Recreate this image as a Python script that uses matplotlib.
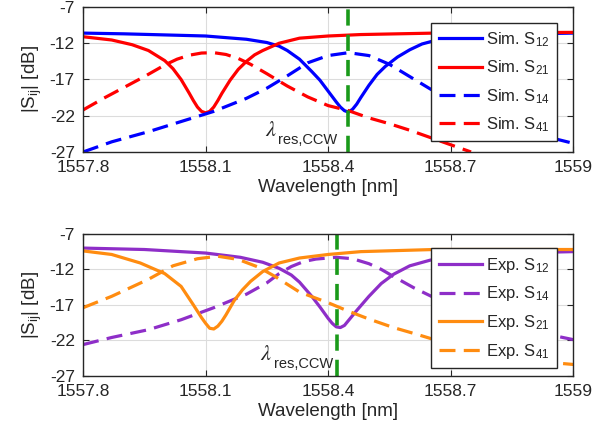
import matplotlib
matplotlib.use("Agg")
import matplotlib.pyplot as plt
import numpy as np

plt.rcParams['font.family'] = ['Liberation Sans', 'DejaVu Sans']
plt.rcParams['mathtext.fontset'] = 'custom'
plt.rcParams['mathtext.rm'] = 'Liberation Sans'
plt.rcParams['mathtext.it'] = 'Liberation Sans:italic'
plt.rcParams['axes.unicode_minus'] = False

# simulated spectra
wl_sim_s12 = [1557.80, 1557.90, 1558.00, 1558.10, 1558.20, 1558.25, 1558.28, 1558.30, 1558.33,
              1558.36, 1558.38, 1558.40, 1558.42, 1558.43, 1558.44, 1558.45, 1558.46, 1558.47,
              1558.48, 1558.50, 1558.52, 1558.54, 1558.57, 1558.60, 1558.63, 1558.67, 1558.72,
              1558.80, 1558.90, 1559.00]
sim_s12 = [-10.6, -10.7, -10.85, -11.0, -11.45, -11.9, -12.4, -13.0, -14.2,
           -15.9, -17.1, -18.6, -20.1, -20.8, -21.3, -21.5, -21.1, -20.4,
           -19.5, -17.8, -16.3, -15.2, -13.9, -12.9, -12.1, -11.5, -11.1,
           -10.9, -10.7, -10.6]

wl_sim_s21 = [1557.80, 1557.87, 1557.92, 1557.96, 1558.00, 1558.02, 1558.04, 1558.06, 1558.07,
              1558.08, 1558.09, 1558.10, 1558.11, 1558.12, 1558.13, 1558.14, 1558.16, 1558.18,
              1558.20, 1558.22, 1558.24, 1558.28, 1558.33, 1558.40, 1558.48, 1558.66, 1559.00]
sim_s21 = [-11.1, -11.55, -12.2, -13.0, -14.4, -15.5, -17.0, -18.9, -19.9,
           -20.8, -21.4, -21.6, -21.4, -20.8, -19.9, -18.9, -17.1, -15.6,
           -14.5, -13.6, -13.0, -12.0, -11.3, -11.0, -10.8, -10.6, -10.5]

wl_sim_s14 = [1557.80, 1557.87, 1557.96, 1558.04, 1558.12, 1558.20, 1558.25, 1558.30, 1558.35,
              1558.40, 1558.45, 1558.50, 1558.55, 1558.60, 1558.65, 1558.70, 1558.75, 1558.80,
              1558.85, 1558.90, 1558.95, 1559.00]
sim_s14 = [-27.0, -25.6, -24.2, -22.8, -21.4, -19.6, -18.2, -16.5, -14.7,
           -13.7, -13.3, -13.7, -14.9, -16.6, -18.3, -19.9, -21.3, -22.5,
           -23.5, -24.3, -25.1, -25.8]

wl_sim_s41 = [1557.80, 1557.85, 1557.90, 1557.95, 1558.00, 1558.03, 1558.06, 1558.09, 1558.12,
              1558.15, 1558.18, 1558.21, 1558.25, 1558.30, 1558.35, 1558.40, 1558.45, 1558.50,
              1558.55, 1558.60, 1558.65, 1558.70, 1558.75]
sim_s41 = [-21.2, -19.6, -18.1, -16.6, -15.0, -14.2, -13.65, -13.35, -13.3,
           -13.55, -14.1, -14.9, -16.2, -17.9, -19.4, -20.6, -21.3, -22.3,
           -23.1, -24.0, -25.0, -26.0, -27.0]

# measured spectra
wl_exp_s12 = [1557.80, 1557.95, 1558.10, 1558.185, 1558.24, 1558.28, 1558.31, 1558.33, 1558.36,
              1558.38, 1558.40, 1558.41, 1558.42, 1558.43, 1558.44, 1558.45, 1558.47, 1558.50,
              1558.53, 1558.56, 1558.60, 1558.65, 1558.75, 1558.85, 1559.00]
exp_s12 = [-9.0, -9.2, -9.7, -10.3, -11.0, -11.85, -12.8, -13.8, -15.8,
           -17.3, -18.9, -19.6, -20.1, -20.2, -19.9, -19.2, -17.8, -15.8,
           -14.0, -12.7, -11.5, -10.7, -10.0, -9.7, -9.5]

wl_exp_s14 = [1557.80, 1557.87, 1557.96, 1558.04, 1558.12, 1558.20, 1558.25, 1558.28, 1558.31,
              1558.34, 1558.37, 1558.42, 1558.46, 1558.50, 1558.53, 1558.56, 1558.61, 1558.66,
              1558.75, 1558.85, 1558.95, 1559.00]
exp_s14 = [-22.6, -21.6, -20.5, -19.1, -17.4, -15.5, -13.9, -12.6, -11.6,
           -10.9, -10.55, -10.3, -10.5, -11.2, -12.0, -13.0, -14.6, -16.0,
           -18.2, -20.0, -21.3, -21.9]

wl_exp_s21 = [1557.80, 1557.87, 1557.94, 1558.00, 1558.04, 1558.07, 1558.08, 1558.09, 1558.10,
              1558.11, 1558.12, 1558.13, 1558.14, 1558.15, 1558.17, 1558.19, 1558.21, 1558.24,
              1558.28, 1558.33, 1558.40, 1558.48, 1558.66, 1559.00]
exp_s21 = [-9.4, -9.9, -11.1, -12.6, -14.4, -17.0, -17.9, -18.8, -19.6,
           -20.3, -20.4, -20.0, -19.3, -18.4, -16.4, -14.9, -13.7, -12.3,
           -11.1, -10.4, -9.9, -9.5, -9.2, -9.2]

wl_exp_s41 = [1557.80, 1557.87, 1557.96, 1558.02, 1558.08, 1558.13, 1558.18, 1558.23, 1558.27,
              1558.33, 1558.40, 1558.45, 1558.50, 1558.56, 1558.62, 1558.66, 1558.75, 1558.85,
              1558.92, 1559.00]
exp_s41 = [-17.4, -15.8, -13.4, -11.5, -10.5, -10.15, -10.6, -11.7, -13.0,
           -15.2, -16.7, -17.9, -19.0, -20.2, -21.2, -21.9, -23.2, -24.3,
           -25.0, -25.4]

res_sim = 1558.449
res_exp = 1558.423

xticks = [1557.8, 1558.1, 1558.4, 1558.7, 1559]
xtick_labels = ['1557.8', '1558.1', '1558.4', '1558.7', '1559']
yticks = [-27, -22, -17, -12, -7]

blue = (0, 0, 1)
red = (1, 0, 0)
purple = '#8e2ec8'
orange = '#ff8c10'
green = '#1a9a1a'
lw = 2.3
dash = (5, 2.6)
txt = '#262626'

fig = plt.figure(figsize=(6.11, 4.38), dpi=100)
ax1 = fig.add_axes([0.136, 0.653, 0.802, 0.331])
ax2 = fig.add_axes([0.136, 0.142, 0.802, 0.324])


def style_axes(ax):
    ax.set_xlim(1557.8, 1559)
    ax.set_ylim(-27, -7)
    ax.set_xticks(xticks)
    ax.set_xticklabels(xtick_labels)
    ax.set_yticks(yticks)
    ax.grid(True, color='#dcdcdc', linewidth=0.8)
    ax.set_axisbelow(True)
    ax.tick_params(direction='in', top=True, right=True, length=4,
                   labelsize=12.5, color=txt, labelcolor=txt, pad=6)
    for s in ax.spines.values():
        s.set_color(txt)
        s.set_linewidth(1.0)
    ax.set_xlabel('Wavelength [nm]', fontsize=13.5, color=txt, labelpad=3)
    ax.set_ylabel(r'|S$_{\mathrm{ij}}$| [dB]', fontsize=13.5, color=txt, labelpad=4)


def add_legend(ax, anchor):
    leg = ax.legend(loc='upper right', bbox_to_anchor=anchor, fontsize=12,
                    handlelength=2.6, handletextpad=0.25, labelspacing=0.58,
                    borderpad=0.45, borderaxespad=0, fancybox=False,
                    framealpha=1, edgecolor=txt)
    leg.get_frame().set_linewidth(1.0)
    for t in leg.get_texts():
        t.set_color(txt)


def res_label(ax, x, y):
    # serif lambda with a sans-serif subscript hung off its lower right corner
    lam = ax.text(x, y, r'$\lambda$', fontsize=16, math_fontfamily='stix',
                  ha='left', va='center', color=txt)
    ax.annotate('res,CCW', xy=(1.0, 0.0), xycoords=lam, xytext=(1, -4),
                textcoords='offset points', fontsize=10.5, ha='left',
                va='bottom', color=txt)


ax1.plot(wl_sim_s12, sim_s12, color=blue, lw=lw, label=r'Sim. S$_{\mathrm{12}}$')
ax1.plot(wl_sim_s21, sim_s21, color=red, lw=lw, label=r'Sim. S$_{\mathrm{21}}$')
ax1.plot(wl_sim_s14, sim_s14, color=blue, lw=lw, dashes=dash, label=r'Sim. S$_{\mathrm{14}}$')
ax1.plot(wl_sim_s41, sim_s41, color=red, lw=lw, dashes=dash, label=r'Sim. S$_{\mathrm{41}}$')
ax1.axvline(res_sim, color=green, lw=2.6, dashes=(4.5, 2.5))
res_label(ax1, 1558.246, -24.1)
style_axes(ax1)
add_legend(ax1, (0.968, 0.892))

ax2.plot(wl_exp_s12, exp_s12, color=purple, lw=lw, label=r'Exp. S$_{\mathrm{12}}$')
ax2.plot(wl_exp_s14, exp_s14, color=purple, lw=lw, dashes=dash, label=r'Exp. S$_{\mathrm{14}}$')
ax2.plot(wl_exp_s21, exp_s21, color=orange, lw=lw, label=r'Exp. S$_{\mathrm{21}}$')
ax2.plot(wl_exp_s41, exp_s41, color=orange, lw=lw, dashes=dash, label=r'Exp. S$_{\mathrm{41}}$')
ax2.axvline(res_exp, color=green, lw=2.6, dashes=(4.5, 2.5))
res_label(ax2, 1558.234, -24.0)
style_axes(ax2)
add_legend(ax2, (0.968, 0.899))

fig.savefig('out.png', dpi=100)
